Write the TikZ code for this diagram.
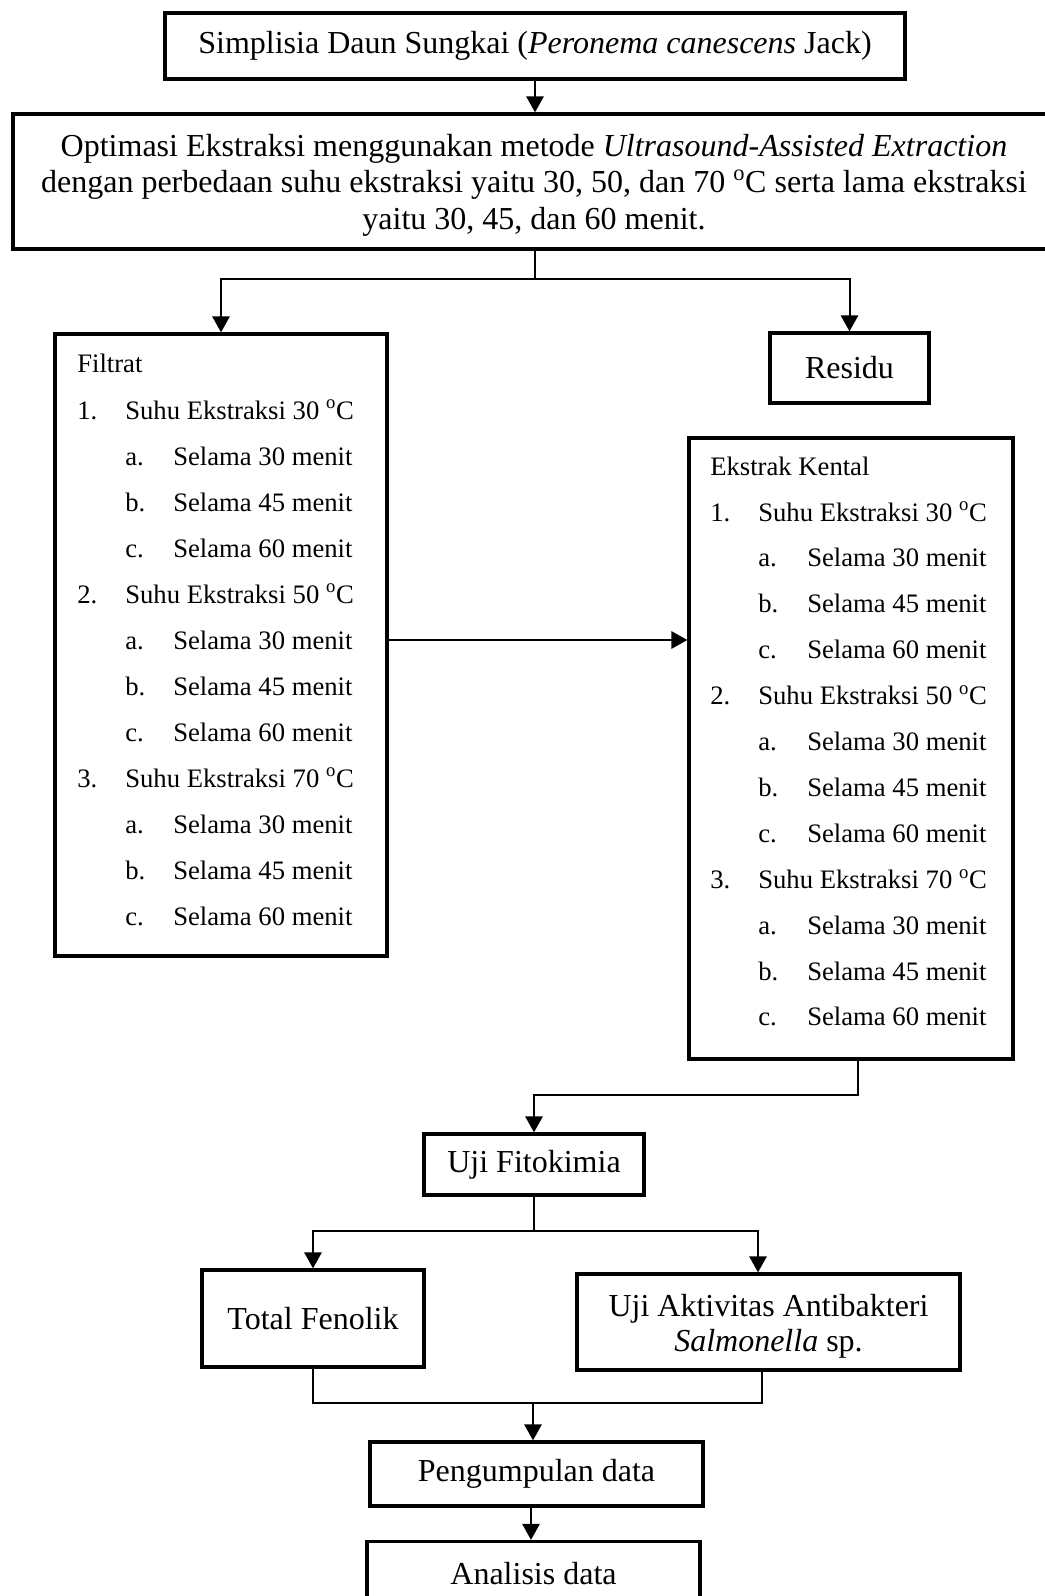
\documentclass[tikz,border=0pt]{standalone}
\usepackage{fontspec}
\setmainfont{Liberation Serif}
\usetikzlibrary{arrows.meta}
\begin{document}
\begin{tikzpicture}[x=0.75pt,y=-0.75pt,
  box/.style={draw, line width=2.5pt, inner sep=0pt, align=center,
    font=\fontsize{24}{26.5}\selectfont},
  conn/.style={line width=1.5pt},
  arr/.style={conn, -{Triangle[length=12pt,width=13pt]}},
  txt/.style={anchor=base west, inner sep=0pt, font=\fontsize{20}{24}\selectfont}]
\useasboundingbox (0,0) rectangle (1045,1596);
\clip (0,0) rectangle (1045,1596);

% boxes
\node[box, minimum width=555pt, minimum height=49.5pt] (top) at (535,46)
  {Simplisia Daun Sungkai (\textit{Peronema canescens} Jack)};
\node[box, minimum width=783pt, minimum height=101.25pt] (opt) at (535,181.5) {};
\node[inner sep=0pt, align=center, font=\fontsize{24}{27.4}\selectfont] (opttext) at (534,185)
  {Optimasi Ekstraksi menggunakan metode \textit{Ultrasound-Assisted Extraction}\\
   dengan perbedaan suhu ekstraksi yaitu 30, 50, dan 70 \textsuperscript{o}C serta lama ekstraksi\\
   yaitu 30, 45, dan 60 menit.};
\node[box, minimum width=249pt, minimum height=466.5pt] (filtrat) at (221,645) {};
\node[box, minimum width=119.25pt, minimum height=52.5pt] (residu) at (849.5,368) {Residu};
\node[box, minimum width=243pt, minimum height=465.75pt] (kental) at (851,748.5) {};
\node[box, minimum width=165pt, minimum height=45.75pt] (fito) at (534,1164.5) {Uji Fitokimia};
\node[box, minimum width=166.5pt, minimum height=72.75pt] (fenolik) at (313,1318.5) {Total Fenolik};
\node[box, minimum width=287.25pt, minimum height=72pt] (anti) at (768.5,1322) {};
\node[inner sep=0pt, align=center, font=\fontsize{24}{26.5}\selectfont] (antitext) at (768.5,1326)
  {Uji Aktivitas Antibakteri\\ \textit{Salmonella} sp.};
\node[box, minimum width=249.75pt, minimum height=48pt] (kumpul) at (536.5,1474) {Pengumpulan data};
\node[box, minimum width=249.75pt, minimum height=48pt] (analisis) at (533.5,1573.5) {Analisis data};

% lists
\node[txt] (ftitle) at (77,372) {Filtrat};
\node[txt] (ktitle) at (710,475) {Ekstrak Kental};
\foreach \g/\t in {0/30,1/50,2/70}{
  \pgfmathsetmacro{\n}{int(\g+1)}
  \pgfmathsetmacro{\yf}{419+46*4*\g}
  \pgfmathsetmacro{\yk}{521+45.9*4*\g}
  \node[txt] (fn\g) at (77,\yf) {\n.};
  \node[txt] (fs\g) at (125,\yf) {Suhu Ekstraksi \t\ \textsuperscript{o}C};
  \node[txt] (kn\g) at (710,\yk) {\n.};
  \node[txt] (ks\g) at (758,\yk) {Suhu Ekstraksi \t\ \textsuperscript{o}C};
  \foreach \j/\l/\m in {1/a/30,2/b/45,3/c/60}{
    \pgfmathsetmacro{\yfj}{\yf+46*\j}
    \pgfmathsetmacro{\ykj}{\yk+45.9*\j}
    \node[txt] (fl\g\j) at (125,\yfj) {\l.};
    \node[txt] (fm\g\j) at (173,\yfj) {Selama \m\ menit};
    \node[txt] (kl\g\j) at (758,\ykj) {\l.};
    \node[txt] (km\g\j) at (807,\ykj) {Selama \m\ menit};
  }
}

% connectors
\draw[arr] (top) -- (opt);
\coordinate (s1) at (535,279);
\draw[conn] (opt.south -| s1) -- (s1);
\draw[arr] (s1) -| (filtrat.north);
\draw[arr] (s1) -| (residu.north);
\coordinate (h1) at (0,640);
\draw[arr] (filtrat.east |- h1) -- (kental.west |- h1);
\coordinate (k1) at (858,1095);
\draw[arr] (kental.south -| k1) -- (k1) -| (fito.north);
\coordinate (s2) at (534,1231);
\coordinate (a1) at (758,1231);
\draw[conn] (fito.south) -- (s2);
\draw[arr] (s2) -| (fenolik.north);
\draw[arr] (s2) -- (a1) -- (anti.north -| a1);
\coordinate (j1) at (762,1403);
\draw[conn] (fenolik.south) |- (j1) -- (anti.south -| j1);
\coordinate (j2) at (533,1403);
\draw[arr] (j2) -- (kumpul.north -| j2);
\coordinate (j3) at (531,1500);
\draw[arr] (kumpul.south -| j3) -- (analisis.north -| j3);
\end{tikzpicture}
\end{document}
